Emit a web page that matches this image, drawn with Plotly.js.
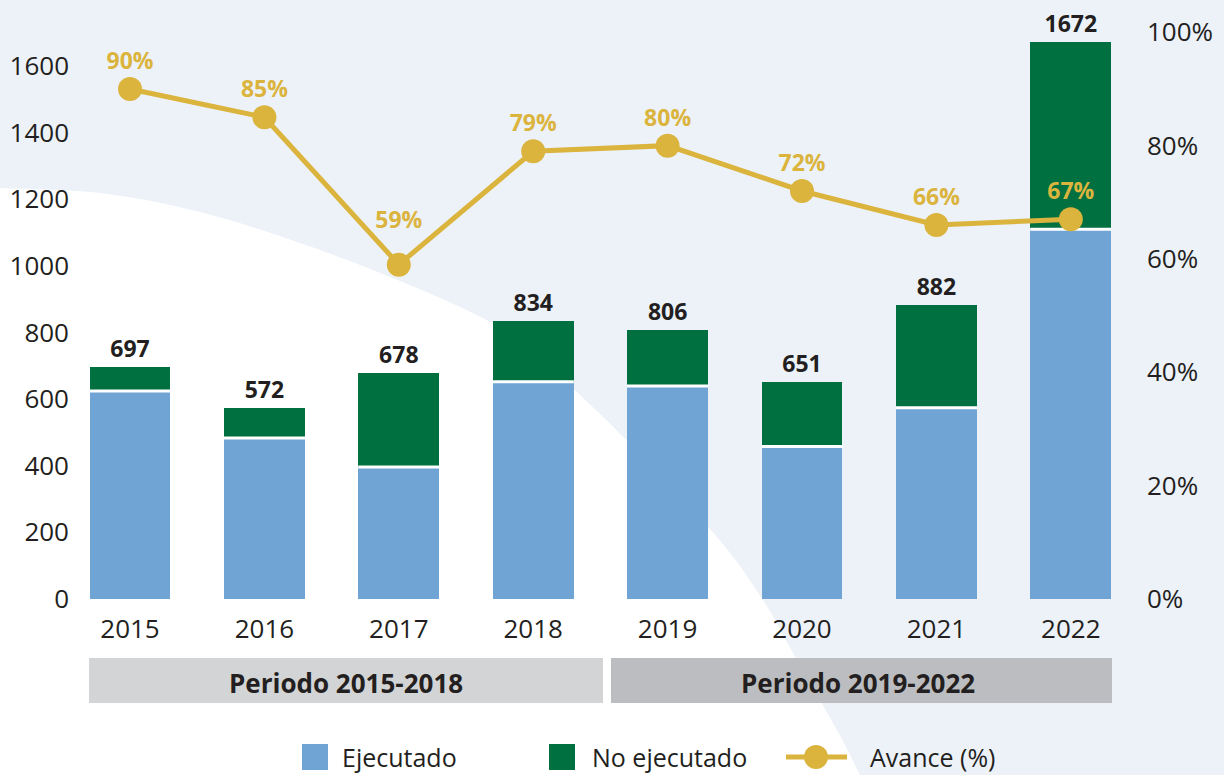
<!DOCTYPE html>
<html>
<head>
<meta charset="utf-8">
<script src="https://cdn.plot.ly/plotly-3.0.1.min.js"></script>
<style>html,body{margin:0;padding:0;background:#edf2f9;}#chart{width:1224px;height:775px;}</style>
</head>
<body>
<div id="chart"></div>
<script>
// ---- data ----
const years = ['2015', '2016', '2017', '2018', '2019', '2020', '2021', '2022'];
const ejecutado = [624, 483, 396, 652, 639, 458, 574, 1110];
const noEjecutado = [73, 89, 282, 182, 167, 193, 308, 562];
const totalLabels = ['697', '572', '678', '834', '806', '651', '882', '1672'];
const avance = [0.90, 0.85, 0.59, 0.79, 0.80, 0.72, 0.66, 0.67];
const avanceLabels = ['90%', '85%', '59%', '79%', '80%', '72%', '66%', '67%'];
const yTickVals = [0, 200, 400, 600, 800, 1000, 1200, 1400, 1600];
const y2TickVals = [0, 0.2, 0.4, 0.6, 0.8, 1.0];
const y2TickText = ['0%', '20%', '40%', '60%', '80%', '100%'];
const periodLabels = ['Periodo 2015-2018', 'Periodo 2019-2022'];
const legendLabels = ['Ejecutado', 'No ejecutado', 'Avance (%)'];

// ---- style ----
const BLUE = '#6fa4d5', GREEN = '#007040', GOLD = '#dbb43d', TXT = '#231f20';
const BG = '#edf2f9';
const FONT = 'Open Sans, Noto Sans, sans-serif';
const W = 1224, H = 775, L = 72, R = 86, T = 31, B = 176;
const PW = W - L - R, PH = H - T - B;
const X = px => (px - L) / PW;
const Y = py => (H - B - py) / PH;

// background white curved region (pixel guide points)
const curvePts = [[-20,186],[0,188],[100,193],[200,212],[300,243],[400,281],[490,322],[540,360],[580,395],[633,447],[717,537],[763,600],[793,653],[837,730],[860,775],[880,815]];
function smoothPath(pts) {
  let d = 'M ' + X(pts[0][0]) + ',' + Y(pts[0][1]);
  for (let i = 0; i < pts.length - 1; i++) {
    const p0 = pts[Math.max(i - 1, 0)], p1 = pts[i], p2 = pts[i + 1], p3 = pts[Math.min(i + 2, pts.length - 1)];
    const c1 = [p1[0] + (p2[0] - p0[0]) / 6, p1[1] + (p2[1] - p0[1]) / 6];
    const c2 = [p2[0] - (p3[0] - p1[0]) / 6, p2[1] - (p3[1] - p1[1]) / 6];
    d += ' C ' + X(c1[0]) + ',' + Y(c1[1]) + ' ' + X(c2[0]) + ',' + Y(c2[1]) + ' ' + X(p2[0]) + ',' + Y(p2[1]);
  }
  d += ' L ' + X(-20) + ',' + Y(815) + ' Z';
  return d;
}

const traces = [
  {type: 'bar', name: legendLabels[0], x: years, y: ejecutado, width: 0.6,
   marker: {color: BLUE, line: {width: 0}}, hoverinfo: 'x+y'},
  {type: 'bar', name: legendLabels[1], x: years, y: noEjecutado, width: 0.6,
   marker: {color: GREEN, line: {width: 0}},
   text: totalLabels, textposition: 'outside', cliponaxis: false,
   textfont: {family: FONT, size: 23, color: TXT, weight: 'bold'}, hoverinfo: 'x+y'},
  {type: 'scatter', mode: 'markers', x: years, y: ejecutado, showlegend: false, hoverinfo: 'skip',
   marker: {symbol: 'line-ew', size: 58, color: '#ffffff', line: {color: '#ffffff', width: 3}}},
  {type: 'scatter', name: legendLabels[2], x: years, y: avance, yaxis: 'y2',
   mode: 'lines+markers', cliponaxis: false,
   line: {color: GOLD, width: 5}, marker: {color: GOLD, size: 24}},
  // percent labels (text-only scatter on y2; 2017 label gets a larger gap via an invisible bigger marker)
  {type: 'scatter', x: years, y: avance, yaxis: 'y2', mode: 'markers+text', showlegend: false,
   hoverinfo: 'skip', cliponaxis: false, text: avanceLabels, textposition: 'top center',
   marker: {size: avance.map((v, i) => (i === 2 ? 48 : 21)), color: 'rgba(0,0,0,0)', line: {width: 0}},
   textfont: {family: FONT, size: 23, color: GOLD, weight: 'bold'}}
];

const shapes = [
  {type: 'path', xref: 'paper', yref: 'paper', layer: 'below', path: smoothPath(curvePts),
   fillcolor: '#ffffff', line: {width: 0}},
  {type: 'rect', xref: 'paper', yref: 'paper', layer: 'below', x0: X(89), x1: X(603), y0: Y(703), y1: Y(658),
   fillcolor: '#d3d4d6', line: {width: 0}},
  {type: 'rect', xref: 'paper', yref: 'paper', layer: 'below', x0: X(611), x1: X(1112), y0: Y(703), y1: Y(658),
   fillcolor: '#bcbdc0', line: {width: 0}},
  // custom legend symbols
  {type: 'rect', xref: 'paper', yref: 'paper', x0: X(302), x1: X(328), y0: Y(770), y1: Y(744),
   fillcolor: BLUE, line: {width: 0}},
  {type: 'rect', xref: 'paper', yref: 'paper', x0: X(549), x1: X(575), y0: Y(770), y1: Y(744),
   fillcolor: GREEN, line: {width: 0}},
  {type: 'line', xref: 'paper', yref: 'paper', x0: X(786), x1: X(847), y0: Y(757), y1: Y(757),
   line: {color: GOLD, width: 5}},
  {type: 'circle', xref: 'paper', yref: 'paper', x0: X(804), x1: X(828), y0: Y(769), y1: Y(745),
   fillcolor: GOLD, line: {width: 0}}
];

const annotations = [
  {xref: 'paper', yref: 'paper', x: X(346), y: Y(683), text: periodLabels[0], showarrow: false,
   xanchor: 'center', yanchor: 'middle', font: {family: FONT, size: 26, color: TXT, weight: 'bold'}},
  {xref: 'paper', yref: 'paper', x: X(858), y: Y(683), text: periodLabels[1], showarrow: false,
   xanchor: 'center', yanchor: 'middle', font: {family: FONT, size: 26, color: TXT, weight: 'bold'}},
  {xref: 'paper', yref: 'paper', x: X(340), y: Y(757), text: legendLabels[0], showarrow: false,
   xanchor: 'left', yanchor: 'middle', font: {family: FONT, size: 25, color: TXT}},
  {xref: 'paper', yref: 'paper', x: X(590), y: Y(757), text: legendLabels[1], showarrow: false,
   xanchor: 'left', yanchor: 'middle', font: {family: FONT, size: 25, color: TXT}},
  {xref: 'paper', yref: 'paper', x: X(868), y: Y(757), text: legendLabels[2], showarrow: false,
   xanchor: 'left', yanchor: 'middle', font: {family: FONT, size: 25, color: TXT}}
];

const TICKF = {family: FONT, size: 26, color: TXT};
const layout = {
  width: W, height: H,
  margin: {l: L, r: R, t: T, b: B, pad: 0},
  paper_bgcolor: BG, plot_bgcolor: 'rgba(0,0,0,0)',
  barmode: 'stack', showlegend: false,
  font: {family: FONT, size: 24, color: TXT},
  xaxis: {type: 'category', range: [-0.4316, 7.5], showgrid: false, zeroline: false, showline: false,
          ticks: '', ticklabelstandoff: 12, tickfont: TICKF, fixedrange: true},
  yaxis: {range: [0, 1705], tickvals: yTickVals, showgrid: false, zeroline: false, showline: false,
          ticks: '', ticklabelstandoff: 2, tickfont: TICKF, fixedrange: true},
  yaxis2: {overlaying: 'y', side: 'right', range: [0, 1.0023], tickvals: y2TickVals, ticktext: y2TickText,
           showgrid: false, zeroline: false, showline: false, ticks: '', ticklabelstandoff: 8,
           tickfont: TICKF, fixedrange: true},
  shapes: shapes,
  annotations: annotations
};

Plotly.newPlot('chart', traces, layout, {displayModeBar: false, staticPlot: true});
</script>
</body>
</html>
